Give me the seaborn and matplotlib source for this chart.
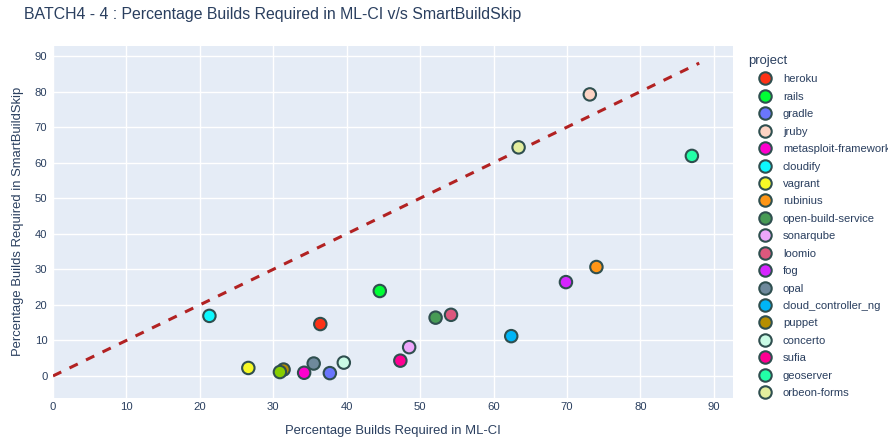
import pandas as pd
import matplotlib
matplotlib.use('Agg')
import matplotlib.pyplot as plt
import seaborn as sns

# data
projects = ['heroku', 'rails', 'gradle', 'jruby', 'metasploit-framework', 'cloudify',
            'vagrant', 'rubinius', 'open-build-service', 'sonarqube', 'loomio', 'fog',
            'opal', 'cloud_controller_ng', 'puppet', 'concerto', 'sufia', 'geoserver',
            'orbeon-forms', 'graylog2-server']
ml_ci = [36.4, 44.5, 37.7, 73.1, 34.2, 21.3, 26.6, 74.0, 52.1, 48.5, 54.2, 69.85,
         35.5, 62.4, 31.4, 39.6, 47.3, 87.0, 63.4, 30.9]
smart_skip = [14.6, 23.9, 0.8, 79.2, 0.9, 16.9, 2.25, 30.65, 16.4, 8.1, 17.2, 26.4,
              3.5, 11.2, 1.8, 3.75, 4.3, 61.9, 64.3, 1.1]
colors = ['#FD3216', '#00FE35', '#6A76FC', '#FED4C4', '#FE00CE', '#0DF9FF', '#F6F926',
          '#FF9616', '#479B55', '#EEA6FB', '#DC587D', '#D626FF', '#6E899C', '#00B5F7',
          '#B68E00', '#C9FBE5', '#FF0092', '#22FFA7', '#E3EE9E', '#86CE00']
diag = [0, 88]

df = pd.DataFrame({'project': projects, 'ml_ci': ml_ci, 'smart': smart_skip})

plt.rcParams['font.family'] = ['Liberation Sans', 'DejaVu Sans']
txt = '#2a3f5f'

fig = plt.figure(figsize=(8.88, 4.41), dpi=100)
ax = fig.add_axes([53 / 888, 1 - 398 / 441, 680 / 888, 352.3 / 441])
ax.set_facecolor('#E5ECF6')

sns.lineplot(x=diag, y=diag, ax=ax, color='#B22222', lw=2.2, dashes=False, zorder=2)
ax.lines[-1].set_dashes((3, 3))

sns.scatterplot(data=df, x='ml_ci', y='smart', hue='project', hue_order=projects,
                palette=colors, s=80, edgecolor='#2F4F4F', linewidth=1.5, ax=ax, zorder=3)

ax.set_xlim(0, 92.6)
ax.set_ylim(-6.2, 92.9)
ax.set_xticks(range(0, 91, 10))
ax.set_yticks(range(0, 91, 10))
ax.grid(color='white', lw=1)
ax.set_axisbelow(True)
for s in ax.spines.values():
    s.set_visible(False)
ax.tick_params(length=0, labelsize=8.1, labelcolor=txt)
ax.tick_params(axis='y', pad=4)
ax.tick_params(axis='x', pad=3)

ax.set_xlabel('Percentage Builds Required in ML-CI', fontsize=9.4, color=txt, labelpad=9)
ax.set_ylabel('Percentage Builds Required in SmartBuildSkip', fontsize=9.4, color=txt, labelpad=8)

fig.text(24 / 888, 1 - 14.5 / 441, 'BATCH4 - 4 : Percentage Builds Required in ML-CI v/s SmartBuildSkip',
         fontsize=11.4, color=txt, va='center', ha='left')

# the reference legend is cut off after the 19th entry
handles, labels = ax.get_legend_handles_labels()
leg = ax.legend(handles[:19], labels[:19], loc='upper left',
                bbox_to_anchor=(748 / 888, 1 - 55 / 441),
                bbox_transform=fig.transFigure, frameon=False, title='project',
                fontsize=8.1, title_fontsize=9.4, labelspacing=0.66, handlelength=3.0,
                handletextpad=0.1, borderaxespad=0, borderpad=0, alignment='left')
for t in leg.get_texts():
    t.set_color(txt)
leg.get_title().set_color(txt)

fig.savefig('out.png', dpi=100)
